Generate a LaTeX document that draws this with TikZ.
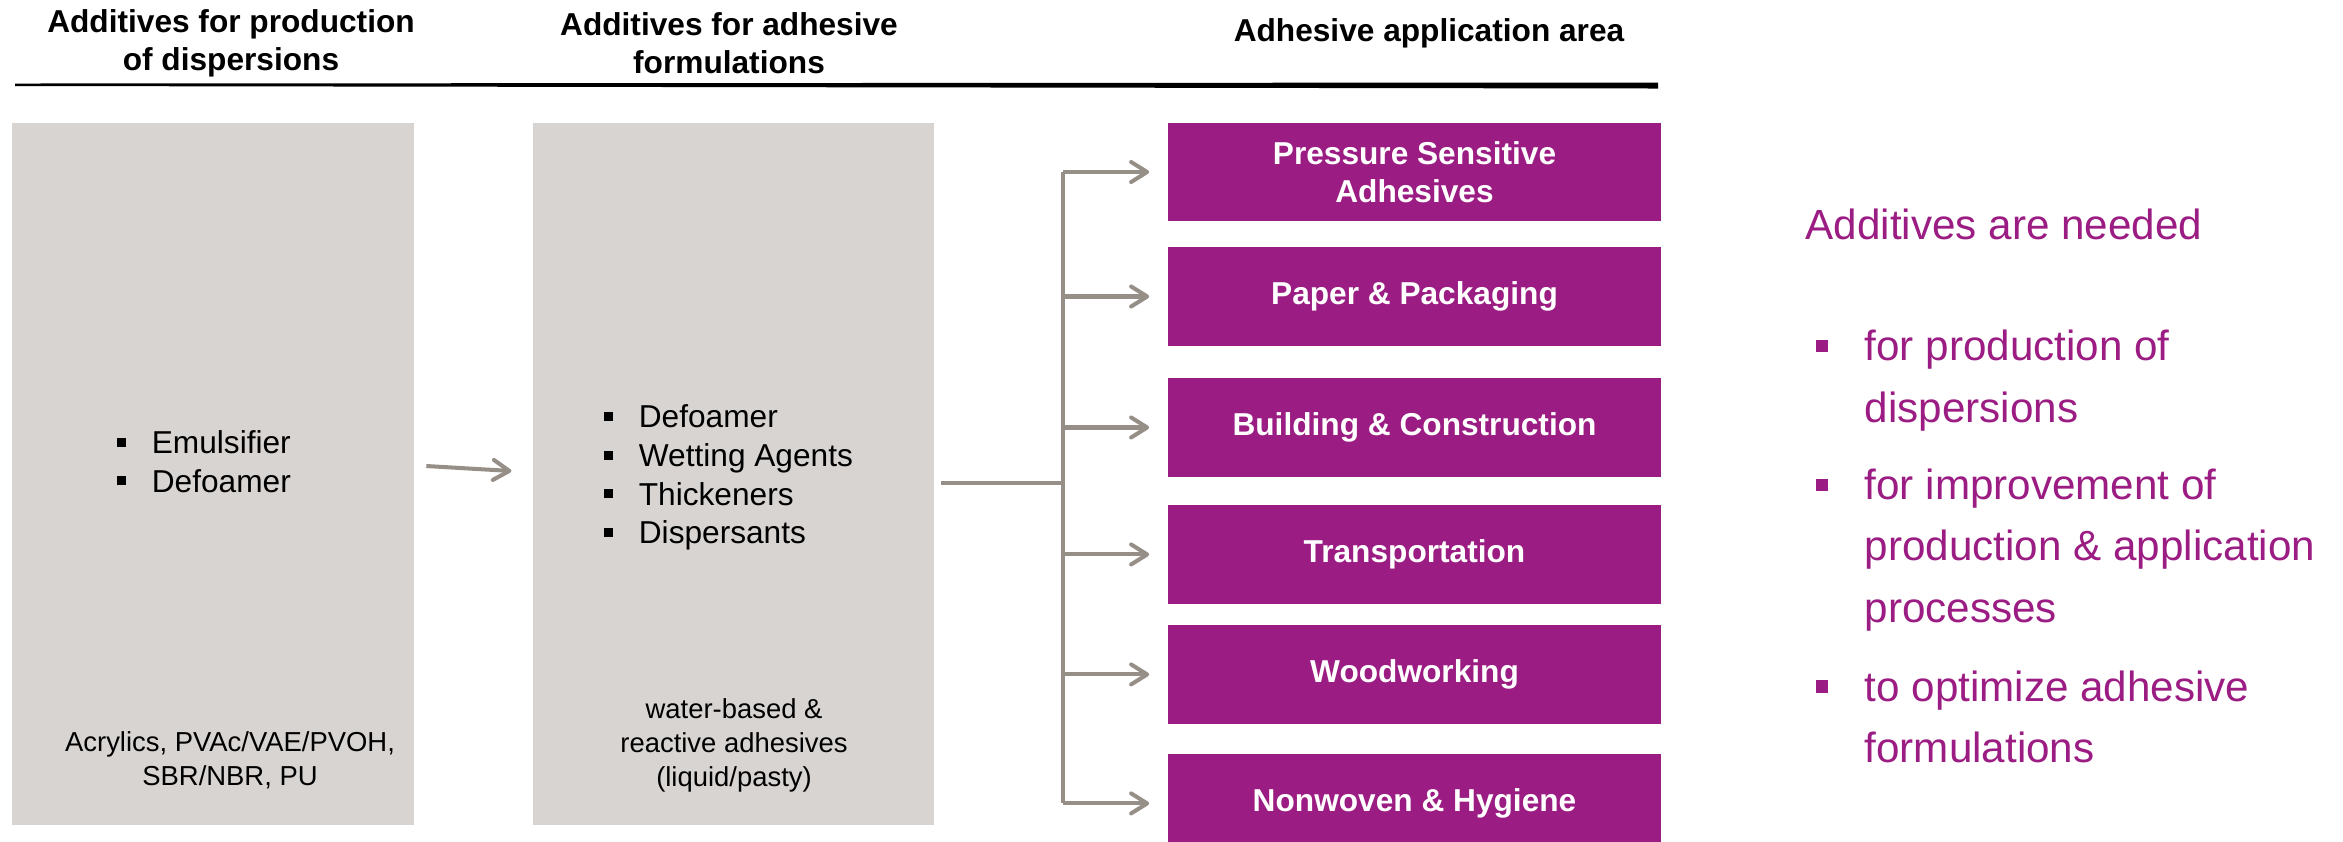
\documentclass[tikz,border=0pt]{standalone}
\usepackage{fontspec}
\setmainfont{Liberation Sans}
\usetikzlibrary{positioning,calc,arrows.meta}
\definecolor{plum}{RGB}{155,28,130}
\definecolor{stone}{RGB}{216,212,209}
\definecolor{pipe}{RGB}{150,143,135}
\tikzstyle{graybox} = [fill=stone, minimum width=4.01cm, minimum height=7.02cm, inner sep=0pt]
\tikzstyle{area} = [fill=plum, text=white, font=\fontsize{9}{10.8}\selectfont\bfseries, minimum width=4.93cm, minimum height=0.985cm, align=center, inner sep=0pt]
\tikzstyle{head} = [font=\fontsize{9}{10.8}\selectfont\bfseries, align=center, inner sep=0pt]
\tikzstyle{items} = [font=\fontsize{9}{11}\selectfont, align=left, inner sep=0pt]
\tikzstyle{note} = [font=\fontsize{7.8}{9.7}\selectfont, align=center, inner sep=0pt]
\tikzstyle{need} = [text=plum, font=\fontsize{12}{17.4}\selectfont, align=left, inner sep=0pt]
\tikzstyle{pipeline} = [pipe, line width=1.15pt]
\tikzstyle{arr} = [pipeline, -{Straight Barb[length=1.6mm,width=2.0mm,round]}]
\newcommand{\sqb}{\rule[1.9pt]{2.6pt}{2.6pt}\hspace{7.4pt}}
\newcommand{\bigsqb}{\llap{\rule[2.4pt]{3.6pt}{3.6pt}\hspace{10.4pt}}}

\begin{document}
\begin{tikzpicture}[x=0.01cm, y=-0.01cm, node distance=0.25cm]
\useasboundingbox (0,0) rectangle (2343,841);
% column headings and rule
\node[head] (h1) at (231,43) {Additives for production\\of dispersions};
\node[head] (h2) at (729,43) {Additives for adhesive\\formulations};
\node[head] (h3) at (1429,33) {Adhesive application area};
\fill (15,83.5) -- (1658,82.5) -- (1658,88.5) -- (15,86) -- cycle;

% additive columns
\node[graybox] (g1) at (213,474) {};
\node[graybox, right=1.18cm of g1] (g2) {};
\node[items, anchor=west] (l1) at (116,461.5) {\sqb Emulsifier\\\sqb Defoamer};
\node[items, anchor=west] (l2) at (603,477.5) {\sqb Defoamer\\\sqb Wetting Agents\\\sqb Thickeners\\\sqb Dispersants};
\node[note] (n1) at (230,760) {Acrylics, PVAc/VAE/PVOH,\\SBR/NBR, PU};
\node[note] (n2) at (734,745.5) {water-based \&\\reactive adhesives\\(liquid/pasty)};

% application areas
\node[area] (p1) at (1414.5,172) {Pressure Sensitive\\Adhesives};
\node[area, below=0.245cm of p1] (p2) {Paper \& Packaging};
\node[area, below=0.31cm of p2] (p3) {Building \& Construction};
\node[area, below=0.27cm of p3] (p4) {Transportation};
\node[area, below=0.2cm of p4] (p5) {Woodworking};
\node[area, below=0.29cm of p5] (p6) {Nonwoven \& Hygiene};

% connectors
\draw[arr] ($(g1.east)+(12,-8)$) -- ($(g2.west)+(-21,-3)$);
\coordinate (fork) at ($(g2.east)+(128,9)$);
\draw[pipeline] ($(g2.east)+(6,9)$) -- (fork);
\draw[pipeline] (fork |- p1) -- (fork |- p6);
\foreach \n in {1,...,6}
  \draw[arr] (fork |- p\n) -- ($(p\n.west)+(-18,0)$);

% summary
\node[need, anchor=west] (s0) at (1805,224) {Additives are needed};
\node[need, anchor=west] (s1) at (1864,380.5) {\bigsqb for production of\\dispersions};
\node[need, anchor=west] (s2) at (1864,550) {\bigsqb for improvement of\\production \& application\\processes};
\node[need, anchor=west] (s3) at (1864,716.5) {\bigsqb to optimize adhesive\\formulations};
\end{tikzpicture}
\end{document}
